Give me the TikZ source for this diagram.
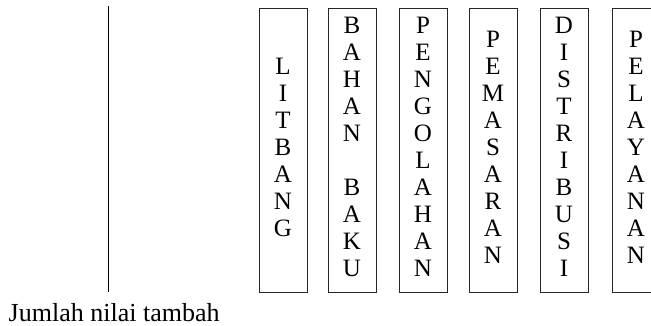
\documentclass[tikz,border=0pt]{standalone}
\usepackage{fontspec}
\setmainfont{Liberation Serif}
\tikzset{
  colbox/.style={draw=black!85, line width=0.8pt, minimum width=48pt, minimum height=284pt, inner sep=0pt},
  coltext/.style={align=center, inner sep=0pt, font=\fontsize{25}{27}\selectfont},
  caption/.style={inner sep=0pt, anchor=base west, font=\fontsize{26}{30}\selectfont},
  axisline/.style={draw=black, line width=0.8pt}
}
\begin{document}
\begin{tikzpicture}[x=1pt,y=1pt]
\useasboundingbox (0,0) rectangle (651,326);
\clip (0,0) rectangle (651,326);
\coordinate (ltop) at (108,320);
\coordinate (lbot) at (108,34.3);
\draw[axisline] (ltop) -- (lbot);
\node[colbox] (b1) at (283,176) {};
\node[colbox] (b2) at (352,176) {};
\node[colbox] (b3) at (423,176) {};
\node[colbox] (b4) at (493,176) {};
\node[colbox] (b5) at (564,176) {};
\node[colbox] (b6) at (636,176) {};
\node[coltext] (t1) at ([yshift=3pt]b1.center) {L\\I\\T\\B\\A\\N\\G};
\node[coltext] (t2) at ([yshift=3pt]b2.center) {B\\A\\H\\A\\N\\~\\B\\A\\K\\U};
\node[coltext] (t3) at ([yshift=3pt]b3.center) {P\\E\\N\\G\\O\\L\\A\\H\\A\\N};
\node[coltext] (t4) at ([yshift=3pt]b4.center) {P\\E\\M\\A\\S\\A\\R\\A\\N};
\node[coltext] (t5) at ([yshift=3pt]b5.center) {D\\I\\S\\T\\R\\I\\B\\U\\S\\I};
\node[coltext] (t6) at ([yshift=3pt]b6.center) {P\\E\\L\\A\\Y\\A\\N\\A\\N};
\node[caption] (cap) at (8.5,4.5) {Jumlah nilai tambah};
\end{tikzpicture}
\end{document}
